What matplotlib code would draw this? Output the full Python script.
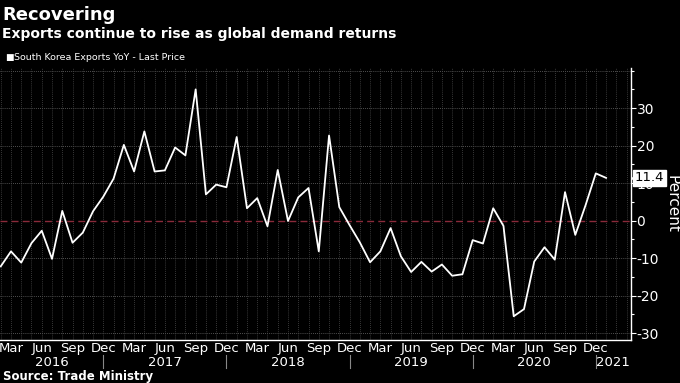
import numpy as np
import pandas as pd
import matplotlib
matplotlib.use("Agg")
import matplotlib.pyplot as plt

# monthly data, Feb 2016 - Jan 2021
months = pd.date_range("2016-02-01", periods=60, freq="MS")
exports_yoy = [
    -12.2, -8.2, -11.2, -6.0, -2.7, -10.2, 2.6, -5.9, -3.2, 2.5, 6.4,      # 2016
    11.2, 20.2, 13.1, 23.8, 13.1, 13.4, 19.5, 17.4, 35.0, 7.0, 9.6, 8.9,   # 2017
    22.3, 3.3, 6.0, -1.5, 13.5, -0.1, 6.2, 8.7, -8.2, 22.7, 3.6, -1.2,    # 2018
    -5.8, -11.1, -8.2, -2.0, -9.5, -13.7, -11.0, -13.6, -11.7, -14.7, -14.3, -5.2,  # 2019
    -6.1, 3.3, -1.4, -25.5, -23.6, -10.9, -7.1, -10.4, 7.6, -3.8, 4.1, 12.6,  # 2020
    11.4,                                                                  # 2021
]
last_value = 11.4
y_ticks = [-30, -20, -10, 0, 10, 20, 30]

title = "Recovering"
subtitle = "Exports continue to rise as global demand returns"
legend_label = "South Korea Exports YoY - Last Price"
source = "Source: Trade Ministry"

x = np.arange(len(months))

fig = plt.figure(figsize=(6.8, 3.83), dpi=100, facecolor="black")
ax = fig.add_axes([0.0, 1 - 339.5 / 383, 631 / 680, (339.5 - 68) / 383])
ax.set_facecolor("black")

ax.plot(x, exports_yoy, color="white", lw=1.3, zorder=3)
ax.axhline(0, color="#8a2a3a", lw=1.0, ls=(0, (5, 3)), zorder=2)

ax.set_xlim(-0.07, 61.43)
ax.set_ylim(-31.7, 40.7)

# grid
for v in [-30, -20, -10, 10, 20, 30, 40]:
    ax.axhline(v, color="#6a6a6a", lw=0.6, ls=(0, (1, 1.5)), zorder=1)
for xi in range(-1, 63):
    ax.axvline(xi, color="#4a4a4a", lw=0.6, ls=(0, (1, 1.5)), zorder=1)

# right axis
ax.yaxis.tick_right()
ax.set_yticks(y_ticks)
ax.set_yticklabels([str(v) for v in y_ticks])
ax.set_yticks([-25, -15, -5, 5, 15, 25, 35, 40], minor=True)
ax.tick_params(axis="y", which="major", colors="white", labelsize=10, length=3.5, width=0.8, pad=0.5)
ax.tick_params(axis="y", which="minor", colors="white", length=2.5, width=0.8)
for s in ["left", "top"]:
    ax.spines[s].set_visible(False)
ax.spines["right"].set_color("white")
ax.spines["bottom"].set_color("white")
ax.spines["right"].set_linewidth(1.0)
ax.spines["bottom"].set_linewidth(1.0)

# axis title, placed at the far right edge
fig.text(672 / 680, 1 - 204 / 383, "Percent", color="white", fontsize=11, rotation=270,
         ha="center", va="center")

# month ticks
tick_idx = [i for i, m in enumerate(months) if m.month in (3, 6, 9, 12)]
ax.set_xticks(tick_idx)
ax.set_xticklabels([months[i].strftime("%b") for i in tick_idx])
ax.tick_params(axis="x", colors="white", labelsize=9.5, length=0, pad=2)

# year labels and separators
dec_idx = [i for i, m in enumerate(months) if m.month == 12]
edges = [ax.get_xlim()[0]] + dec_idx + [ax.get_xlim()[1]]
years = [months[0].year + k for k in range(len(edges) - 1)]
for k, yr in enumerate(years):
    c = (edges[k] + edges[k + 1]) / 2
    ax.text(c, -0.085, str(yr), transform=ax.get_xaxis_transform(), color="white",
            fontsize=9.5, ha="center", va="center")
for d in dec_idx:
    ax.plot([d, d], [-0.058, -0.106], transform=ax.get_xaxis_transform(),
            color="#888888", lw=0.8, clip_on=False)

# last value tag (box with small arrow pointing at the axis)
tag_tf = ax.get_yaxis_transform()
ax.plot([1.004], [last_value], marker="<", ms=5, color="white", transform=tag_tf,
        clip_on=False, zorder=5)
ax.text(1.006, last_value, f"{last_value}", transform=tag_tf, color="black", fontsize=9.5,
        va="center", ha="left", zorder=6,
        bbox=dict(boxstyle="square,pad=0.12", fc="white", ec="white"))

fig.text(0.003, 0.962, title, color="white", fontsize=13, fontweight="bold", va="center")
fig.text(0.003, 0.912, subtitle, color="white", fontsize=10, fontweight="bold", va="center")
fig.text(0.007, 0.851, "\u25A0", color="white", fontsize=6.5, va="center")
fig.text(0.021, 0.851, legend_label, color="white", fontsize=6.8, va="center")
fig.text(0.004, 0.016, source, color="white", fontsize=8.5, fontweight="bold", va="center")

fig.savefig("out.png", dpi=100, facecolor="black")
